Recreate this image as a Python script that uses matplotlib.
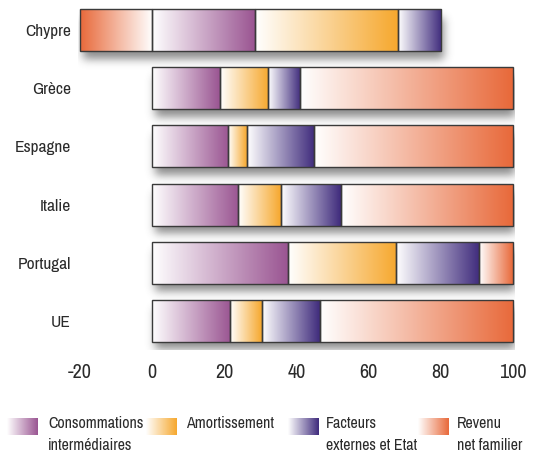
import numpy as np
import matplotlib
matplotlib.use("Agg")
import matplotlib.pyplot as plt
from matplotlib.colors import LinearSegmentedColormap
from matplotlib.patches import Rectangle
from matplotlib import font_manager

# ---------------- data ----------------
countries = ["Chypre", "Grèce", "Espagne", "Italie", "Portugal", "UE"]
consommations = [28.5, 18.8, 21.1, 23.9, 37.6, 21.7]
amortissement = [39.6, 13.3, 5.1, 11.9, 30.1, 8.8]
facteurs = [12.0, 8.9, 18.7, 16.6, 23.0, 15.9]
revenu = [-20.0, 59.0, 55.1, 47.6, 9.3, 53.6]
series_names = ["Consommations\nintermédiaires", "Amortissement",
                "Facteurs\nexternes et Etat", "Revenu\nnet familier"]
xticks = [-20, 0, 20, 40, 60, 80, 100]

colors = ["#9A5592", "#F6A82E", "#3F2B7C", "#E8693A"]

# ---------------- fonts ----------------
narrow = None
for f in font_manager.fontManager.ttflist:
    if ("Narrow" in f.name or "Condensed" in f.name) and f.style == "normal":
        narrow = f.name
        break
if narrow is not None:
    fam = [narrow, "DejaVu Sans"]
    scale = 1.0
else:
    fam = ["Roboto", "DejaVu Sans"]
    scale = 0.8
plt.rcParams["font.family"] = fam
text_color = "#2b2b2b"

W, H = 560, 459
fig = plt.figure(figsize=(W / 100, H / 100), dpi=100)

# axes placement (pixels)
x_lo, x_hi = -20.5, 100.5
ppu = 3.61
left_px = 152 - (0 - x_lo) * ppu
right_px = 152 + (x_hi - 0) * ppu
top_px, bot_px = 1, 350
ax = fig.add_axes([left_px / W, 1 - bot_px / H, (right_px - left_px) / W, (bot_px - top_px) / H])
ax.set_xlim(x_lo, x_hi)
ax.set_ylim(len(countries) - 0.5, -0.5)

bar_h = 0.72
cmaps = [LinearSegmentedColormap.from_list("c%d" % i, ["#ffffff", c]) for i, c in enumerate(colors)]
grad = np.linspace(0, 1, 256).reshape(1, -1)

# ---- shadow (blurred, offset) ----
nx, ny = int(right_px - left_px), int(bot_px - top_px)
mask = np.zeros((ny, nx))
xs = np.linspace(x_lo, x_hi, nx)
ys = np.linspace(-0.5, len(countries) - 0.5, ny)
row_px = (bot_px - top_px) / len(countries)
dx_off = 3 / ppu
dy_off = 8 / row_px
for i in range(len(countries)):
    vals = [consommations[i], amortissement[i], facteurs[i], revenu[i]]
    lo = min(0, sum(v for v in vals if v < 0))
    hi = sum(v for v in vals if v > 0)
    xm = (xs >= lo + dx_off) & (xs <= hi + dx_off)
    ym = (ys >= i - bar_h / 2 + dy_off) & (ys <= i + bar_h / 2 + dy_off)
    mask[np.ix_(ym, xm)] = 1.0


def blur(a, s):
    r = int(3 * s)
    k = np.exp(-0.5 * (np.arange(-r, r + 1) / s) ** 2)
    k /= k.sum()
    a = np.apply_along_axis(lambda m: np.convolve(m, k, mode="same"), 0, a)
    a = np.apply_along_axis(lambda m: np.convolve(m, k, mode="same"), 1, a)
    return a


mask = blur(mask, 4.5)
rgba = np.zeros((ny, nx, 4))
rgba[..., :3] = 0.3
rgba[..., 3] = mask * 0.65
ax.imshow(rgba, extent=[x_lo, x_hi, len(countries) - 0.5, -0.5], aspect="auto", zorder=1,
          interpolation="bilinear")

# ---- bars ----
for i in range(len(countries)):
    vals = [consommations[i], amortissement[i], facteurs[i], revenu[i]]
    pos, neg = 0.0, 0.0
    for k, v in enumerate(vals):
        if v >= 0:
            x0, x1 = pos, pos + v
            pos += v
            g = grad
        else:
            x0, x1 = neg + v, neg
            neg += v
            g = grad[:, ::-1]
        y0, y1 = i - bar_h / 2, i + bar_h / 2
        ax.imshow(g, cmap=cmaps[k], extent=[x0, x1, y1, y0], aspect="auto", zorder=2,
                  interpolation="bilinear")
        ax.add_patch(Rectangle((x0, y0), x1 - x0, y1 - y0, fill=False, edgecolor="#3a3a3a",
                               lw=1.0, zorder=3))

ax.set_xlim(x_lo, x_hi)
ax.set_ylim(len(countries) - 0.5, -0.5)
ax.set_xticks(xticks)
ax.set_xticklabels([str(t) for t in xticks], fontsize=14.5 * scale, color=text_color)
ax.set_yticks(range(len(countries)))
ax.set_yticklabels(countries, fontsize=12.5 * scale, color=text_color)
ax.tick_params(axis="both", length=0)
ax.tick_params(axis="x", pad=9)
ax.tick_params(axis="y", pad=5)
for s in ax.spines.values():
    s.set_visible(False)
ax.set_facecolor("none")

# ---- legend ----
lax = fig.add_axes([0, 0, 1, 1])
lax.set_xlim(0, W)
lax.set_ylim(H, 0)
lax.axis("off")
patch_x = [7, 146, 288, 418]
text_x = [48, 186, 326, 457]
for k in range(4):
    lax.imshow(grad, cmap=cmaps[k], extent=[patch_x[k], patch_x[k] + 31, 435, 418], aspect="auto",
               interpolation="bilinear")
    lax.text(text_x[k], 416, series_names[k], fontsize=11.5 * scale, color=text_color, va="top",
             ha="left", linespacing=1.55)
lax.set_xlim(0, W)
lax.set_ylim(H, 0)

fig.savefig("out.png", dpi=100)
